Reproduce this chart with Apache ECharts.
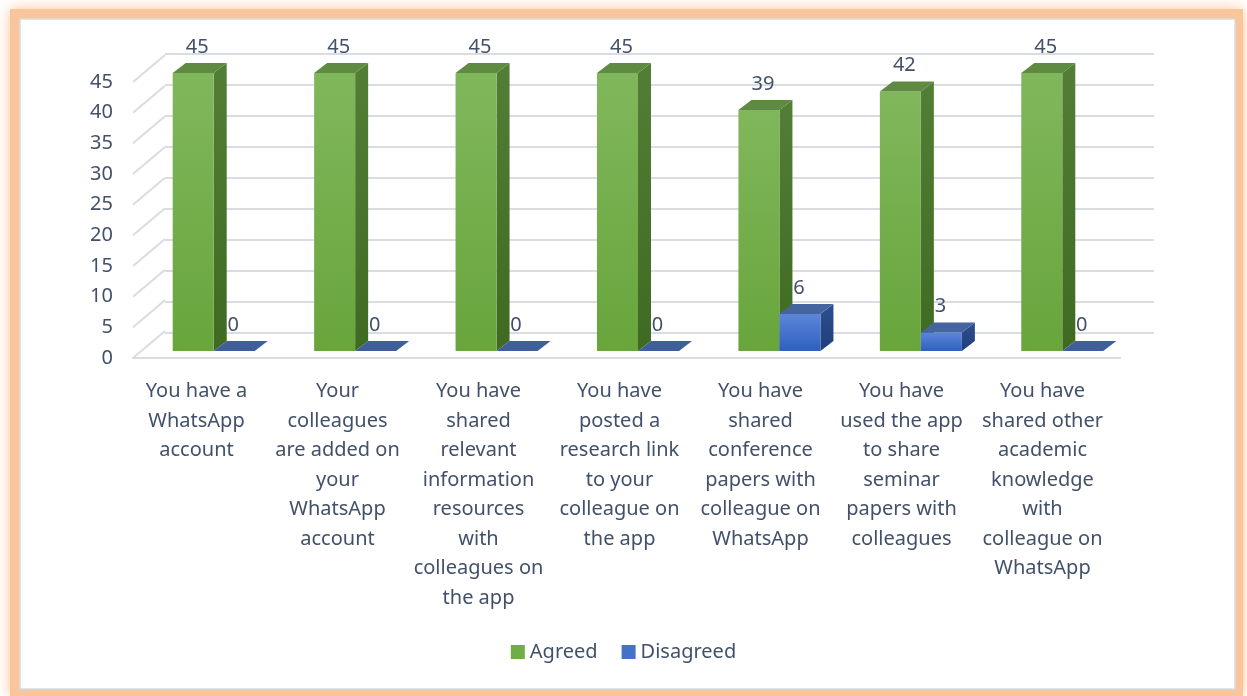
<!DOCTYPE html>
<html>
<head>
<meta charset="utf-8">
<script src="https://cdn.jsdelivr.net/npm/echarts@6/dist/echarts.min.js"></script>
<style>
  html, body { margin: 0; padding: 0; background: #fff; }
  #chart { width: 1247px; height: 696px; }
</style>
</head>
<body>
<div id="chart"></div>
<script>
// data
const categories = [
  'You have a\nWhatsApp\naccount',
  'Your\ncolleagues\nare added on\nyour\nWhatsApp\naccount',
  'You have\nshared\nrelevant\ninformation\nresources\nwith\ncolleagues on\nthe app',
  'You have\nposted a\nresearch link\nto your\ncolleague on\nthe app',
  'You have\nshared\nconference\npapers with\ncolleague on\nWhatsApp',
  'You have\nused the app\nto share\nseminar\npapers with\ncolleagues',
  'You have\nshared other\nacademic\nknowledge\nwith\ncolleague on\nWhatsApp'
];
const agreed = [45, 45, 45, 45, 39, 42, 45];
const disagreed = [0, 0, 0, 0, 6, 3, 0];
const yTicks = [0, 5, 10, 15, 20, 25, 30, 35, 40, 45];

const FONT = 'Noto Sans';
const TXT = '#42506A';
const GRID_LINE = '#D9DCE3';
const DEPTH = [13, -10];

const chart = echarts.init(document.getElementById('chart'));

// 3D-looking bar: front face + side + top
function barRenderer(isRight, c, labelShift) {
  return function (params, api) {
    const idx = api.value(0);
    const val = api.value(1);
    const base = api.coord([idx, 0]);
    const top = api.coord([idx, val]);
    const w = api.size([1, 0])[0] * 0.29;
    const x0 = base[0] + (isRight ? 0 : -w);
    const x1 = x0 + w;
    const yb = base[1], yt = top[1];
    const dx = DEPTH[0], dy = DEPTH[1];
    const children = [];
    if (val > 0) {
      children.push({
        type: 'polygon',
        shape: { points: [[x1, yt], [x1 + dx, yt + dy], [x1 + dx, yb + dy], [x1, yb]] },
        style: { fill: new echarts.graphic.LinearGradient(0, 0, 0, 1, [
          { offset: 0, color: c.side[0] }, { offset: 1, color: c.side[1] }]) }
      });
      children.push({
        type: 'rect',
        shape: { x: x0, y: yt, width: w, height: yb - yt },
        style: { fill: new echarts.graphic.LinearGradient(0, 0, 0, 1, [
          { offset: 0, color: c.front[0] }, { offset: 1, color: c.front[1] }]) }
      });
    }
    children.push({
      type: 'polygon',
      shape: { points: [[x0, yt], [x0 + dx, yt + dy], [x1 + dx, yt + dy], [x1, yt]] },
      style: { fill: val > 0 ? c.top : c.flat }
    });
    children.push({
      type: 'text',
      x: (x0 + x1) / 2 + labelShift,
      y: yt - 26,
      style: {
        text: String(val), fill: TXT, fontSize: 20, fontFamily: FONT,
        align: 'center', verticalAlign: 'middle'
      }
    });
    return { type: 'group', children: children };
  };
}

// diagonal floor/wall joints on the left
function diagRenderer(params, api) {
  const p = api.coord([0, api.value(0)]);
  const left = params.coordSys.x;
  return {
    type: 'line',
    shape: { x1: left, y1: p[1], x2: left + 32, y2: p[1] - 27 },
    style: { stroke: GRID_LINE, lineWidth: 2 }
  };
}

const greenColors = { front: ['#80B75C', '#68A53B'], side: ['#527E35', '#3E6A22'], top: '#5E8A41', flat: '#5E8A41' };
const blueColors = { front: ['#5C86D8', '#2F60C0'], side: ['#2D4F90', '#203E7A'], top: '#44659F', flat: '#3F5F9C' };

const option = {
  backgroundColor: '#ffffff',
  animation: false,
  graphic: [
    {
      type: 'rect', z: -10, silent: true,
      shape: { x: 10, y: 9, width: 1233, height: 688 },
      style: { fill: '#FBC59B', shadowBlur: 14, shadowColor: '#FBC59B' }
    },
    {
      type: 'rect', z: -9, silent: true,
      shape: { x: 20, y: 19, width: 1215, height: 670 },
      style: { fill: '#ffffff', stroke: '#D6DCE5', lineWidth: 1.5 }
    }
  ],
  legend: {
    bottom: 29,
    left: 'center',
    itemWidth: 14,
    itemHeight: 14,
    itemGap: 24,
    icon: 'rect',
    textStyle: { color: TXT, fontSize: 20, fontFamily: FONT },
    data: ['Agreed', 'Disagreed']
  },
  grid: [
    // back wall
    { left: 165, right: 93, top: 54, bottom: 363 },
    // front plane
    { left: 133, right: 127, top: 82, bottom: 338 },
    // bar plane
    { left: 143, right: 114, top: 73, bottom: 345 }
  ],
  xAxis: [
    { gridIndex: 0, type: 'category', data: categories, show: false },
    {
      gridIndex: 1, type: 'category', data: categories,
      axisLine: { show: true, lineStyle: { color: GRID_LINE, width: 2 } },
      axisTick: { show: false },
      axisLabel: {
        interval: 0, color: TXT, fontSize: 20, fontFamily: FONT,
        lineHeight: 29.5, margin: 19, padding: [0, 14, 0, 0]
      }
    },
    { gridIndex: 2, type: 'category', data: categories, show: false }
  ],
  yAxis: [
    {
      gridIndex: 0, type: 'value', min: 0, max: 45, interval: 5,
      axisLine: { show: false }, axisTick: { show: false }, axisLabel: { show: false },
      splitLine: { show: true, lineStyle: { color: GRID_LINE, width: 2 } }
    },
    {
      gridIndex: 1, type: 'value', min: 0, max: 45, interval: 5,
      axisLine: { show: false }, axisTick: { show: false }, splitLine: { show: false },
      axisLabel: { color: TXT, fontSize: 20, fontFamily: FONT, margin: 20 }
    },
    {
      gridIndex: 2, type: 'value', min: 0, max: 45, interval: 5, show: false,
      splitLine: { show: false }
    }
  ],
  series: [
    {
      type: 'custom', name: 'diag', xAxisIndex: 1, yAxisIndex: 1,
      renderItem: diagRenderer, data: yTicks.map(v => [v]), silent: true, z: 1
    },
    {
      type: 'custom', name: 'Agreed', xAxisIndex: 2, yAxisIndex: 2, z: 3,
      itemStyle: { color: '#70AD47' },
      renderItem: barRenderer(false, greenColors, 4),
      data: agreed.map((v, i) => [i, v])
    },
    {
      type: 'custom', name: 'Disagreed', xAxisIndex: 2, yAxisIndex: 2, z: 4,
      itemStyle: { color: '#4472C4' },
      renderItem: barRenderer(true, blueColors, -1),
      data: disagreed.map((v, i) => [i, v])
    }
  ]
};

chart.setOption(option);
</script>
</body>
</html>
